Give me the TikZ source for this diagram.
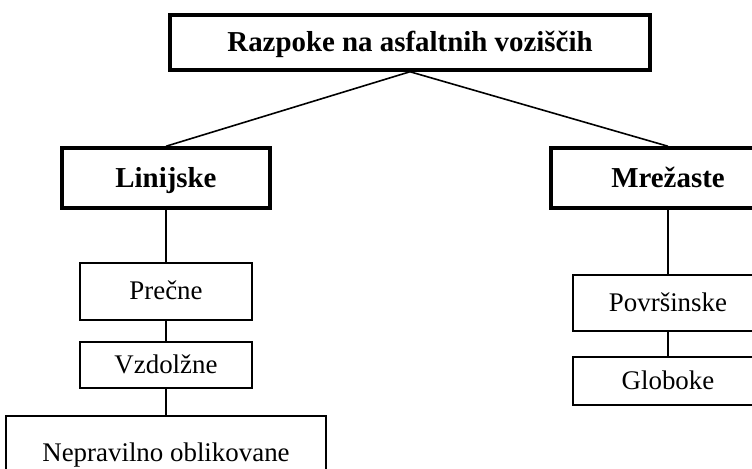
\documentclass[tikz,border=0pt]{standalone}
\usepackage{fontspec}
\setmainfont{Liberation Serif}
\usepackage{tikz}
\tikzset{mainbox/.style={draw,line width=3.5bp,inner sep=0pt,text height=19bp,text depth=0pt,font=\fontsize{29}{34}\selectfont\bfseries},
         subbox/.style={draw,line width=1.8bp,inner sep=0pt,text height=17bp,text depth=0pt,font=\fontsize{27}{32}\selectfont},
         link/.style={line width=1.6bp}
}
\begin{document}
\begin{tikzpicture}[x=1bp,y=-1bp]
  \useasboundingbox(0,0)rectangle(752,469);
  \clip(0,0)rectangle(752,469);
  \node[mainbox,minimum width=480bp,minimum height=55bp](top)at(410,42.5){Razpoke na asfaltnih voziščih};
  \node[mainbox,minimum width=208bp,minimum height=60bp](lin)at(166,178){Linijske};
  \node[mainbox,minimum width=234bp,minimum height=60bp](mre)at(668,178){Mrežaste};
  \node[subbox,minimum width=172bp,minimum height=57bp](pre)at(166,291.5){Prečne};
  \node[subbox,minimum width=172bp,minimum height=46bp](vzd)at(166,365){Vzdolžne};
  \node[subbox,minimum width=320bp,minimum height=74bp](nep)at(166,453){Nepravilno oblikovane};
  \node[subbox,minimum width=190bp,minimum height=56bp](pov)at(668,303){Površinske};
  \node[subbox,minimum width=190bp,minimum height=48bp](glo)at(668,381){Globoke};
  \draw[link](top.south)--(lin.north);
  \draw[link](top.south)--(mre.north);
  \draw[link](lin)--(pre);
  \draw[link](pre)--(vzd);
  \draw[link](vzd)--(nep);
  \draw[link](mre)--(pov);
  \draw[link](pov)--(glo);
\end{tikzpicture}
\end{document}
